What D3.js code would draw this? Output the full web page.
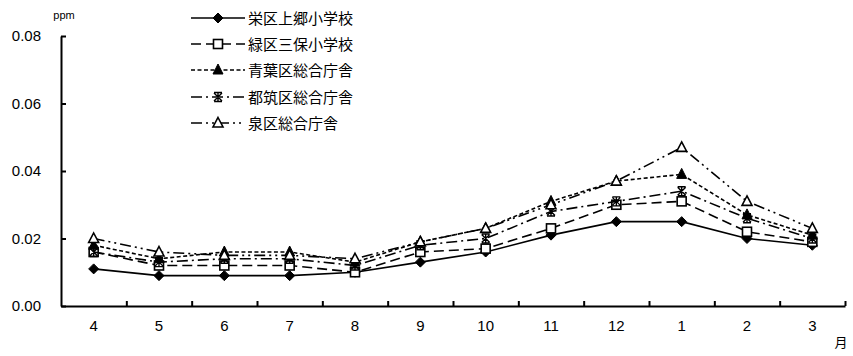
<!DOCTYPE html>
<html>
<head>
<meta charset="utf-8">
<script src="https://cdn.jsdelivr.net/npm/d3@7"></script>
<style>
  html, body { margin: 0; padding: 0; background: #fff; }
  svg { display: block; }
  text { font-family: "Liberation Sans", Arial, sans-serif; fill: #000; }
  .cjk { font-family: "Noto Sans CJK JP", "Noto Sans CJK SC", sans-serif; }
</style>
</head>
<body>
<svg id="chart" width="853" height="356"></svg>
<script>
const months = ["4","5","6","7","8","9","10","11","12","1","2","3"];
const yTicks = [0, 0.02, 0.04, 0.06, 0.08];
const seriesNames = ["栄区上郷小学校","緑区三保小学校","青葉区総合庁舎","都筑区総合庁舎","泉区総合庁舎"];
const sakae   = [0.011,0.009,0.009,0.009,0.010,0.013,0.016,0.021,0.025,0.025,0.020,0.018];
const midori  = [0.016,0.012,0.012,0.012,0.010,0.016,0.017,0.023,0.030,0.031,0.022,0.019];
const aoba    = [0.018,0.014,0.016,0.016,0.013,0.019,0.023,0.031,0.037,0.039,0.027,0.021];
const tsuzuki = [0.016,0.013,0.014,0.014,0.012,0.018,0.020,0.028,0.031,0.034,0.026,0.020];
const izumi   = [0.020,0.016,0.015,0.015,0.014,0.019,0.023,0.030,0.037,0.047,0.031,0.023];
const seriesValues = [sakae, midori, aoba, tsuzuki, izumi];

const styles = [
  {dash: null, marker: "diamond"},
  {dash: "10,5", marker: "square"},
  {dash: "4,2.5", marker: "triFilled"},
  {dash: "11,4,2,4", marker: "star"},
  {dash: "11,4,2,4,2,4", marker: "triOpen"}
];

const svg = d3.select("#chart");
const x = d3.scaleBand().domain(months).range([61, 845]).padding(0);
const y = d3.scaleLinear().domain([0, 0.08]).range([306, 36]);

// Y axis
const yAxis = d3.axisLeft(y).tickValues(yTicks).tickFormat(d3.format(".2f"))
  .tickSizeInner(-5).tickSizeOuter(0).tickPadding(20);
const gy = svg.append("g").attr("transform", `translate(${x.range()[0]},0)`).call(yAxis);
gy.select(".domain").attr("stroke", "#000").attr("stroke-width", 2);
gy.selectAll(".tick line").attr("stroke", "#000").attr("stroke-width", 2);
gy.selectAll(".tick text").style("font-size", "15px").attr("fill", "#444");

// X axis: ticks at band boundaries
const idx = d3.scaleLinear().domain([0, months.length]).range(x.range());
const xTickAxis = d3.axisBottom(idx).tickValues(d3.range(1, months.length + 1))
  .tickFormat("").tickSizeInner(-5).tickSizeOuter(0);
const gx = svg.append("g").attr("transform", `translate(0,${y(0)})`).call(xTickAxis);
gx.select(".domain").attr("stroke", "#000").attr("stroke-width", 2);
gx.selectAll(".tick line").attr("stroke", "#000").attr("stroke-width", 2);

const xLabelAxis = d3.axisBottom(x).tickSize(0).tickPadding(14);
const gxl = svg.append("g").attr("transform", `translate(0,${y(0)})`).call(xLabelAxis);
gxl.select(".domain").remove();
gxl.selectAll(".tick text").style("font-size", "15px").attr("fill", "#444");

svg.append("text").attr("x", 64).attr("y", 19).attr("text-anchor", "middle")
  .style("font-size", "11px").attr("fill", "#444").text("ppm");
svg.append("text").attr("class", "cjk").attr("x", 841).attr("y", 347).attr("text-anchor", "middle")
  .style("font-size", "13px").attr("fill", "#444").text("月");

// marker drawing
function drawMarker(g, type, cx, cy) {
  if (type === "diamond") {
    g.append("path").attr("d", `M${cx},${cy-5}L${cx+5},${cy}L${cx},${cy+5}L${cx-5},${cy}Z`)
      .attr("fill", "#000").attr("stroke", "#000").attr("stroke-width", 1);
  } else if (type === "square") {
    g.append("rect").attr("x", cx-4.5).attr("y", cy-4.5).attr("width", 9).attr("height", 9)
      .attr("fill", "#fff").attr("stroke", "#000").attr("stroke-width", 1.6);
  } else if (type === "triFilled") {
    g.append("path").attr("d", `M${cx},${cy-6}L${cx+5},${cy+4}L${cx-5},${cy+4}Z`)
      .attr("fill", "#000").attr("stroke", "#000").attr("stroke-width", 1);
  } else if (type === "triOpen") {
    g.append("path").attr("d", `M${cx},${cy-5.5}L${cx+5},${cy+4}L${cx-5},${cy+4}Z`)
      .attr("fill", "#fff").attr("stroke", "#000").attr("stroke-width", 1.6);
  } else if (type === "star") {
    g.append("path").attr("d",
      `M${cx-4},${cy-4}L${cx+4},${cy+4}M${cx+4},${cy-4}L${cx-4},${cy+4}M${cx},${cy-5}L${cx},${cy+5}M${cx-4},${cy-4.5}L${cx+4},${cy-4.5}M${cx-4},${cy+4.5}L${cx+4},${cy+4.5}`)
      .attr("fill", "none").attr("stroke", "#000").attr("stroke-width", 1.4);
  }
}

const line = d3.line().x((d, i) => x(months[i]) + x.bandwidth() / 2).y(d => y(d));

seriesValues.forEach((vals, si) => {
  const g = svg.append("g");
  g.append("path").datum(vals).attr("d", line).attr("fill", "none")
    .attr("stroke", "#000").attr("stroke-width", 1.6)
    .attr("stroke-dasharray", styles[si].dash);
  vals.forEach((v, i) => drawMarker(g, styles[si].marker, x(months[i]) + x.bandwidth() / 2, y(v)));
});

// Legend
const legendRows = [18, 44, 70, 97, 123];
seriesNames.forEach((name, si) => {
  const g = svg.append("g");
  const ly = legendRows[si];
  g.append("line").attr("x1", 191).attr("x2", 245).attr("y1", ly).attr("y2", ly)
    .attr("stroke", "#000").attr("stroke-width", 1.6).attr("stroke-dasharray", styles[si].dash);
  drawMarker(g, styles[si].marker, 218, ly);
  g.append("text").attr("class", "cjk").attr("x", 248).attr("y", ly + 5.5)
    .style("font-size", "15px").text(name);
});
</script>
</body>
</html>
